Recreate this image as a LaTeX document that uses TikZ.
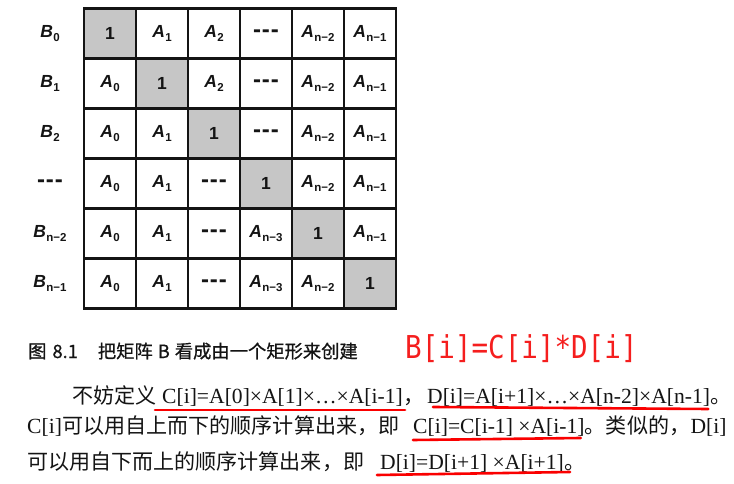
\documentclass[tikz,border=0pt]{standalone}
\usepackage{fontspec}
\usepackage{graphicx}
\setmainfont{Liberation Serif}
\newfontfamily\cellf{Liberation Sans}
\newfontfamily\cjk{Noto Sans CJK SC}[Scale=0.975]
\newfontfamily\capf{Noto Sans CJK SC}[FakeBold=0.8]
\newfontfamily\redf{DejaVu Sans Mono}
\definecolor{ink}{RGB}{20,20,20}
\definecolor{shade}{RGB}{198,198,198}
\definecolor{redline}{RGB}{250,0,0}
\definecolor{redtext}{RGB}{245,30,30}
\newcommand\Sb[1]{\kern0.3pt\raisebox{-3.8pt}{\fontsize{11.5}{11.5}\selectfont #1}}
\newcommand\Av[1]{\textit{A}\Sb{#1}}
\newcommand\Bv[1]{\textit{B}\Sb{#1}}
\newcommand\dd{\raisebox{-2pt}{\fontsize{24}{24}\selectfont -\kern0.8pt-\kern0.8pt-}}
\newcommand\zh[1]{{\cjk #1}}
\begin{document}
\begin{tikzpicture}[x=1pt,y=1pt,
  cell/.style={draw=ink, line width=2.2pt, minimum width=52pt, minimum height=50pt,
    inner sep=0pt, text=ink, font=\cellf\fontsize{17.5}{17.5}\selectfont\bfseries},
  onecell/.style={cell, fill=shade},
  rowlab/.style={inner sep=0pt, text=ink, font=\cellf\fontsize{17.5}{17.5}\selectfont\bfseries},
  body/.style={anchor=base west, inner sep=0pt, text=ink, font=\fontsize{21.6}{21.6}\selectfont},
  uline/.style={draw=redline, line width=2.6pt, line cap=round}]
\useasboundingbox[fill=white] (0,0) rectangle (734,-484);
% row 0
\node[onecell] (m00) at (110,-33.5) {1};
\node[cell] (m01) at (162,-33.5) {\Av{1}};
\node[cell] (m02) at (214,-33.5) {\Av{2}};
\node[cell] (m03) at (266,-33.5) {\dd};
\node[cell] (m04) at (318,-33.5) {\Av{n−2}};
\node[cell] (m05) at (370,-33.5) {\Av{n−1}};
% row 1
\node[cell] (m10) at (110,-83.5) {\Av{0}};
\node[onecell] (m11) at (162,-83.5) {1};
\node[cell] (m12) at (214,-83.5) {\Av{2}};
\node[cell] (m13) at (266,-83.5) {\dd};
\node[cell] (m14) at (318,-83.5) {\Av{n−2}};
\node[cell] (m15) at (370,-83.5) {\Av{n−1}};
% row 2
\node[cell] (m20) at (110,-133.5) {\Av{0}};
\node[cell] (m21) at (162,-133.5) {\Av{1}};
\node[onecell] (m22) at (214,-133.5) {1};
\node[cell] (m23) at (266,-133.5) {\dd};
\node[cell] (m24) at (318,-133.5) {\Av{n−2}};
\node[cell] (m25) at (370,-133.5) {\Av{n−1}};
% row 3
\node[cell] (m30) at (110,-183.5) {\Av{0}};
\node[cell] (m31) at (162,-183.5) {\Av{1}};
\node[cell] (m32) at (214,-183.5) {\dd};
\node[onecell] (m33) at (266,-183.5) {1};
\node[cell] (m34) at (318,-183.5) {\Av{n−2}};
\node[cell] (m35) at (370,-183.5) {\Av{n−1}};
% row 4
\node[cell] (m40) at (110,-233.5) {\Av{0}};
\node[cell] (m41) at (162,-233.5) {\Av{1}};
\node[cell] (m42) at (214,-233.5) {\dd};
\node[cell] (m43) at (266,-233.5) {\Av{n−3}};
\node[onecell] (m44) at (318,-233.5) {1};
\node[cell] (m45) at (370,-233.5) {\Av{n−1}};
% row 5
\node[cell] (m50) at (110,-283.5) {\Av{0}};
\node[cell] (m51) at (162,-283.5) {\Av{1}};
\node[cell] (m52) at (214,-283.5) {\dd};
\node[cell] (m53) at (266,-283.5) {\Av{n−3}};
\node[cell] (m54) at (318,-283.5) {\Av{n−2}};
\node[onecell] (m55) at (370,-283.5) {1};
% row labels
\node[rowlab] (r0) at (50,-33.5) {\Bv{0}};
\node[rowlab] (r1) at (50,-83.5) {\Bv{1}};
\node[rowlab] (r2) at (50,-133.5) {\Bv{2}};
\node[rowlab] (r3) at (50,-183.5) {\dd};
\node[rowlab] (r4) at (50,-233.5) {\Bv{n−2}};
\node[rowlab] (r5) at (50,-283.5) {\Bv{n−1}};
% caption
\node[anchor=base west, inner sep=0pt, text=ink, font=\capf\fontsize{18.3}{18.3}\selectfont] (cap) at (28,-358)
  {图\hspace{6pt}8.1\hspace{20pt}把矩阵\hspace{5pt}B\hspace{5pt}看成由一个矩形来创建};
\node[anchor=base west, inner sep=0pt, text=redtext] (eq) at (405,-358)
  {\scalebox{0.875}[1]{\redf\fontsize{31.5}{31.5}\selectfont B[i]=C[i]*D[i]}};
% line 1
\node[body] (l1a) at (72,-403) {\zh{不妨定义}};
\node[body] (f1) at (162,-403) {C[i]=A[0]×A[1]×…×A[i-1]};
\node[body] (l1b) at (f1.base east) {\zh{，}};
\node[body] (f2) at (427,-403) {D[i]=A[i+1]×…×A[n-2]×A[n-1]};
\node[body] (l1c) at (f2.base east) {\zh{。}};
% line 2
\node[body] (l2a) at (27,-433) {C[i]};
\node[body] (l2b) at (l2a.base east) {\zh{可以用自上而下的顺序计算出来，即}};
\node[body] (f3) at (413,-433) {C[i]=C[i-1] ×A[i-1]};
\node[body] (l2c) at (f3.base east) {\zh{。类似的，}};
\node[body] (l2d) at (l2c.base east) {D[i]};
% line 3
\node[body] (l3a) at (27,-469) {\zh{可以用自下而上的顺序计算出来，即}};
\node[body] (f4) at (380,-469) {D[i]=D[i+1] ×A[i+1]};
\node[body] (l3b) at (f4.base east) {\zh{。}};
% underlines
\draw[uline] ([yshift=-7pt,xshift=-7pt]f1.base west) -- ([yshift=-7pt,xshift=2pt]f1.base east);
\draw[uline] ([yshift=-4pt,xshift=6pt]f2.base west) -- ([yshift=-6pt,xshift=-2pt]f2.base east);
\draw[uline] ([yshift=-7pt]f3.base west) -- ([yshift=-5pt,xshift=-4pt]f3.base east);
\draw[uline] ([yshift=-6pt,xshift=-3pt]f4.base west) -- ([yshift=-3pt,xshift=6pt]f4.base east);
\end{tikzpicture}
\end{document}
